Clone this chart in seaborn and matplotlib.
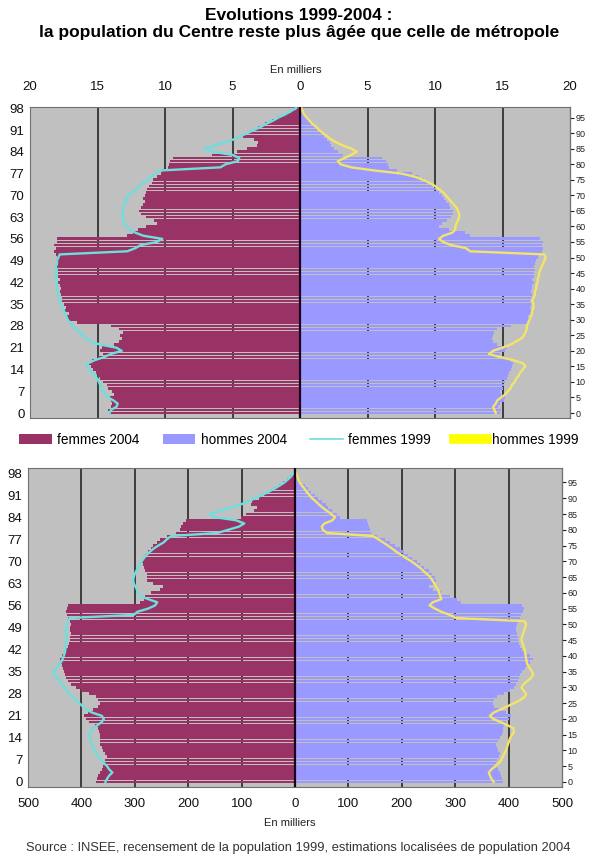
import numpy as np
import pandas as pd
import matplotlib
matplotlib.use('Agg')
import matplotlib.pyplot as plt
from matplotlib.patches import Patch
from matplotlib.lines import Line2D
import seaborn as sns

# ages 0 to 98
ages = list(range(99))

# region Centre, in thousands
centre_femmes_2004 = [
    14.1, 14.2, 14.0, 13.9, 14.0, 14.1, 13.8, 13.9, 14.2, 14.3,
    14.6, 14.8, 15.0, 15.1, 15.3, 15.5, 15.6, 15.4, 15.0, 14.6,
    14.8, 14.7, 13.8, 13.4, 13.2, 13.3, 13.1, 13.4, 14.0, 16.5,
    17.2, 17.3, 17.1, 17.4, 17.3, 17.5, 17.6, 17.6, 17.7, 17.8,
    17.7, 17.8, 17.9, 17.8, 17.9, 17.9, 18.0, 18.0, 17.9, 18.1,
    18.0, 18.1, 18.2, 18.1, 18.2, 18.0, 18.0, 12.8, 12.4, 12.0,
    11.4, 10.6, 10.8, 11.4, 11.8, 11.9, 11.8, 11.6, 11.5, 11.6,
    11.5, 11.4, 11.3, 11.2, 11.0, 10.9, 10.6, 10.3, 10.2, 9.8,
    9.7, 9.6, 9.4, 6.5, 4.7, 3.9, 3.2, 3.1, 3.4, 4.2,
    3.9, 3.5, 3.1, 2.6, 2.1, 1.6, 1.1, 0.7, 0.3,
]
centre_hommes_2004 = [
    14.8, 14.9, 14.7, 14.8, 15.1, 15.2, 14.9, 14.8, 15.0, 15.1,
    15.2, 15.3, 15.4, 15.5, 15.6, 15.7, 15.8, 15.6, 15.2, 14.8,
    15.2, 15.3, 14.6, 14.3, 14.2, 14.3, 14.4, 14.6, 15.6, 16.8,
    17.0, 16.9, 17.0, 17.1, 17.0, 17.1, 17.0, 17.1, 17.2, 17.1,
    17.2, 17.2, 17.3, 17.2, 17.3, 17.3, 17.4, 17.3, 17.4, 17.5,
    17.6, 17.7, 17.9, 18.0, 17.9, 18.0, 17.8, 12.6, 12.2, 11.0,
    10.3, 10.5, 10.9, 11.2, 11.3, 11.3, 11.1, 11.0, 10.8, 10.7,
    10.5, 10.3, 10.1, 9.8, 9.5, 9.2, 8.8, 8.3, 7.2, 6.6,
    6.5, 6.4, 6.1, 3.2, 2.8, 2.5, 2.3, 2.2, 2.0, 1.8,
    1.6, 1.3, 1.1, 0.9, 0.7, 0.5, 0.35, 0.2, 0.1,
]
centre_femmes_1999 = [
    14.1, 14.0, 13.6, 13.5, 13.8, 14.2, 14.4, 14.6, 14.7, 14.8,
    14.9, 15.0, 15.2, 15.4, 15.6, 15.8, 15.7, 15.2, 14.5, 14.0,
    13.2, 13.6, 14.8, 15.5, 15.9, 16.1, 16.3, 16.6, 16.9, 17.0,
    17.2, 17.3, 17.4, 17.5, 17.6, 17.7, 17.8, 17.8, 17.9, 17.9,
    18.0, 18.0, 18.0, 18.1, 18.0, 18.1, 18.0, 18.1, 18.0, 18.0,
    17.9, 17.8, 12.8, 12.2, 11.8, 10.6, 10.2, 11.6, 12.2, 12.6,
    12.9, 13.0, 13.1, 13.1, 13.2, 13.1, 13.1, 13.0, 12.9, 12.9,
    12.7, 12.4, 12.1, 11.9, 11.6, 11.3, 11.0, 10.7, 10.3, 5.9,
    5.5, 4.6, 4.5, 5.0, 6.5, 7.1, 6.3, 5.6, 4.9, 4.4,
    3.9, 3.4, 2.9, 2.5, 2.0, 1.6, 1.1, 0.7, 0.3,
]
centre_hommes_1999 = [
    14.5, 14.4, 14.3, 14.5, 14.6, 14.9, 15.2, 15.4, 15.6, 15.7,
    15.9, 16.0, 16.2, 16.3, 16.5, 16.7, 16.5, 15.8, 14.8, 14.0,
    14.3, 15.0, 15.6, 16.0, 16.4, 16.6, 16.7, 16.8, 16.8, 16.9,
    17.0, 17.1, 17.2, 17.2, 17.3, 17.3, 17.2, 17.3, 17.4, 17.4,
    17.5, 17.5, 17.6, 17.6, 17.7, 17.7, 17.8, 17.9, 18.0, 18.1,
    18.2, 18.1, 12.6, 12.3, 11.2, 10.6, 10.3, 10.6, 11.3, 11.5,
    11.5, 11.6, 11.7, 11.8, 11.8, 11.7, 11.6, 11.4, 11.2, 11.0,
    10.8, 10.6, 10.3, 10.0, 9.6, 9.1, 8.5, 7.5, 5.5, 3.8,
    3.0, 2.8, 3.3, 3.8, 4.2, 3.8, 3.2, 2.7, 2.3, 2.0,
    1.7, 1.4, 1.2, 0.9, 0.7, 0.5, 0.3, 0.2, 0.1,
]

# France metropolitaine, in thousands
metro_femmes_2004 = [
    372, 370, 368, 366, 362, 360, 358, 355, 352, 355,
    359, 362, 365, 366, 365, 366, 367, 368, 375, 385,
    392, 395, 388, 378, 368, 365, 368, 372, 385, 400,
    410, 420, 425, 428, 430, 432, 434, 437, 440, 441,
    437, 432, 428, 425, 424, 422, 421, 420, 421, 421,
    420, 422, 425, 427, 428, 427, 425, 290, 283, 280,
    270, 252, 248, 265, 277, 278, 278, 280, 283, 285,
    286, 284, 280, 276, 270, 265, 258, 252, 240, 222,
    216, 213, 210, 205, 102, 92, 76, 72, 82, 80,
    68, 58, 48, 40, 30, 22, 15, 9, 4,
]
metro_hommes_2004 = [
    390, 388, 385, 383, 380, 378, 377, 379, 382, 384,
    380, 378, 377, 380, 384, 388, 390, 390, 392, 396,
    400, 404, 395, 382, 372, 370, 372, 378, 392, 402,
    410, 414, 418, 420, 422, 426, 430, 434, 440, 446,
    440, 430, 426, 422, 420, 418, 417, 415, 414, 414,
    415, 418, 421, 424, 427, 428, 425, 310, 304, 290,
    274, 258, 251, 258, 264, 262, 257, 250, 242, 235,
    228, 220, 212, 205, 197, 188, 178, 168, 154, 143,
    141, 139, 137, 134, 85, 78, 70, 62, 58, 50,
    43, 37, 30, 24, 18, 12, 8, 5, 2,
]
metro_femmes_1999 = [
    355, 352, 348, 342, 348, 352, 358, 363, 368, 372,
    376, 378, 380, 383, 384, 385, 383, 378, 370, 362,
    358, 362, 380, 392, 398, 404, 412, 418, 424, 428,
    432, 436, 440, 446, 450, 452, 448, 443, 438, 435,
    433, 431, 430, 430, 429, 428, 428, 429, 430, 428,
    427, 425, 422, 302, 295, 275, 262, 258, 275, 290,
    294, 296, 299, 302, 303, 302, 300, 297, 294, 290,
    287, 283, 278, 272, 265, 256, 246, 240, 232, 145,
    125, 105, 95, 110, 150, 160, 140, 120, 102, 88,
    74, 62, 50, 39, 29, 20, 13, 7, 3,
]
metro_hommes_1999 = [
    372, 368, 365, 363, 368, 375, 382, 386, 389, 392,
    395, 397, 399, 401, 403, 407, 410, 409, 398, 385,
    371, 365, 372, 385, 398, 410, 422, 430, 433, 428,
    424, 428, 435, 442, 446, 444, 440, 436, 434, 433,
    432, 431, 430, 428, 426, 424, 425, 427, 429, 431,
    433, 430, 302, 290, 274, 262, 252, 258, 274, 272,
    270, 268, 264, 261, 257, 253, 247, 240, 234, 226,
    218, 208, 199, 190, 182, 174, 165, 156, 146, 60,
    52, 50, 55, 70, 75, 68, 60, 52, 45, 39,
    32, 27, 22, 18, 13, 9, 6, 4, 2,
]

legend_labels = ['femmes 2004', 'hommes 2004', 'femmes 1999', 'hommes 1999']

plt.rcParams['font.family'] = ['Liberation Sans', 'DejaVu Sans']

COL_F04 = '#993366'
COL_H04 = '#9999ff'
COL_F99 = '#6fdede'
COL_H99 = '#f2e46a'
BG = '#c0c0c0'


def draw_pyramid(ax, f04, h04, f99, h99, xmax, step):
    df = pd.DataFrame({
        'age': ages,
        'f04': -np.array(f04, dtype=float),
        'h04': np.array(h04, dtype=float),
        'f99': -np.array(f99, dtype=float),
        'h99': np.array(h99, dtype=float),
    })
    ax.set_facecolor(BG)

    # vertical gridlines behind the bars
    for v in np.arange(step, xmax, step):
        ax.axvline(v, color='#1a1a1a', lw=1.1, zorder=1)
        ax.axvline(-v, color='#1a1a1a', lw=1.1, zorder=1)

    sns.barplot(data=df, x='f04', y='age', orient='h', native_scale=True,
                color=COL_F04, saturation=1, width=0.88, errorbar=None,
                linewidth=0, ax=ax, zorder=2)
    sns.barplot(data=df, x='h04', y='age', orient='h', native_scale=True,
                color=COL_H04, saturation=1, width=0.88, errorbar=None,
                linewidth=0, ax=ax, zorder=2)
    sns.lineplot(data=df, x='f99', y='age', orient='y', estimator=None,
                 color=COL_F99, lw=1.7, ax=ax, zorder=4)
    sns.lineplot(data=df, x='h99', y='age', orient='y', estimator=None,
                 color=COL_H99, lw=1.7, ax=ax, zorder=4)

    ax.axvline(0, color='#1c001c', lw=1.6, zorder=5)
    ax.set_xlim(-xmax, xmax)
    ax.set_xlabel('')
    ax.set_ylabel('')

    xt = np.arange(-xmax, xmax + step, step)
    ax.set_xticks(xt)
    ax.set_xticklabels([str(abs(int(v))) for v in xt])
    ax.set_yticks(range(0, 99, 7))
    ax.set_yticklabels([str(a) for a in range(0, 99, 7)])
    ax.tick_params(axis='both', length=0, labelsize=9.5, colors='#111111')
    ax.tick_params(axis='y', pad=4)
    for s in ax.spines.values():
        s.set_color('#707070')
        s.set_linewidth(0.8)

    sec = ax.secondary_yaxis('right')
    sec.set_yticks(range(0, 96, 5))
    sec.tick_params(axis='y', labelsize=6.5, length=3, width=0.8, pad=1,
                    colors='#222222')
    sec.spines['right'].set_color('#333333')


fig = plt.figure(figsize=(5.98, 8.58), dpi=100)
fig.patch.set_facecolor('white')

H = 858.0
W = 598.0
ax_top = fig.add_axes([30 / W, 1 - 418 / H, 540 / W, 311 / H])
draw_pyramid(ax_top, centre_femmes_2004, centre_hommes_2004,
             centre_femmes_1999, centre_hommes_1999, 20, 5)
ax_top.set_ylim(-1.6, 98.4)
ax_top.xaxis.tick_top()
ax_top.tick_params(axis='x', pad=10)

ax_bot = fig.add_axes([28 / W, 1 - 787 / H, 534 / W, 319 / H])
draw_pyramid(ax_bot, metro_femmes_2004, metro_hommes_2004,
             metro_femmes_1999, metro_hommes_1999, 500, 100)
ax_bot.set_ylim(-1.6, 99.6)
ax_bot.tick_params(axis='x', pad=8)

# titles and notes
fig.text(0.5, 1 - 15 / H, 'Evolutions 1999-2004 :', ha='center', va='center',
         fontsize=12.5, fontweight='bold')
fig.text(0.5, 1 - 33 / H,
         'la population du Centre reste plus âgée que celle de métropole',
         ha='center', va='center', fontsize=12.5, fontweight='bold')
fig.text(296 / W, 1 - 70 / H, 'En milliers', ha='center', va='center',
         fontsize=8, color='#222222')
fig.text(290 / W, 1 - 823 / H, 'En milliers', ha='center', va='center',
         fontsize=8, color='#222222')
fig.text(298 / W, 1 - 848 / H,
         'Source : INSEE, recensement de la population 1999, '
         'estimations localisées de population 2004',
         ha='center', va='center', fontsize=9.3, color='#333333')

handles = [
    Patch(facecolor=COL_F04, edgecolor='none'),
    Patch(facecolor=COL_H04, edgecolor='none'),
    Line2D([0], [0], color=COL_F99, lw=1.2),
    Line2D([0], [0], color='#ffff00', lw=7),
]
fig.legend(handles, legend_labels, loc='center', ncol=4, frameon=False,
           bbox_to_anchor=(0.5, 1 - 440 / H), fontsize=9.8,
           handlelength=2.4, handleheight=0.7, handletextpad=0.4,
           columnspacing=1.7, borderpad=0.1)

plt.savefig('out.png', dpi=100)
